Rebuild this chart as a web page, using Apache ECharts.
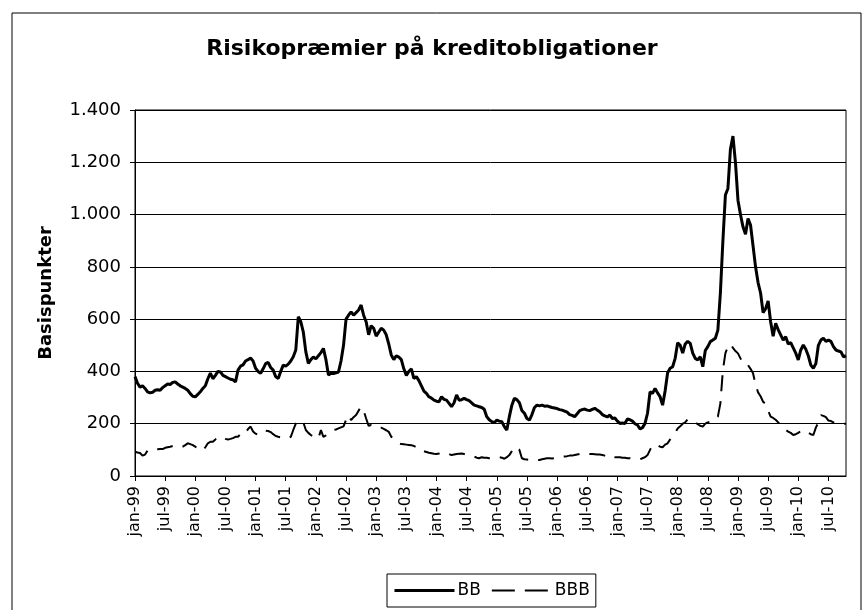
<!DOCTYPE html>
<html>
<head>
<meta charset="utf-8">
<script src="https://cdn.jsdelivr.net/npm/echarts@6/dist/echarts.min.js"></script>
<style>
  html, body { margin: 0; padding: 0; background: #fff; }
  #chart { width: 864px; height: 610px; }
</style>
</head>
<body>
<div id="chart"></div>
<script>
// half-monthly observations, 1 jan 1999 .. 15 okt 2010
var monthNames = ['jan', 'feb', 'mar', 'apr', 'maj', 'jun', 'jul', 'aug', 'sep', 'okt', 'nov', 'dec']
var firstYear = 1999
var lastYear = 2010
var lastMonth = 9

var bbValues = [
  380, 355, 340, 345, 335, 322, 318, 320, 328, 330, 328, 338,
  345, 352, 350, 358, 360, 352, 345, 340, 335, 328, 315, 305,
  303, 312, 322, 335, 345, 372, 394, 372, 385, 400, 398, 385,
  380, 375, 370, 368, 360, 405, 420, 425, 440, 445, 451, 440,
  412, 400, 393, 410, 430, 435, 415, 405, 380, 373, 400, 424,
  420, 428, 440, 456, 482, 609, 590, 550, 475, 431, 445, 455,
  448, 460, 472, 488, 445, 386, 393, 392, 395, 398, 440, 500,
  600, 615, 628, 615, 625, 635, 654, 615, 590, 540, 575, 565,
  535, 550, 565, 558, 540, 505, 463, 445, 460, 455, 445, 410,
  385, 400, 410, 373, 380, 365, 345, 325, 316, 303, 298, 290,
  286, 284, 303, 293, 290, 278, 265, 280, 310, 290, 292, 297,
  292, 288, 280, 271, 268, 265, 262, 255, 227, 215, 208, 204,
  214, 210, 208, 189, 176, 227, 271, 297, 292, 280, 250, 240,
  220, 214, 235, 262, 271, 268, 271, 267, 268, 265, 262, 260,
  258, 254, 252, 248, 244, 235, 232, 227, 238, 250, 254, 256,
  252, 250, 255, 259, 252, 246, 235, 230, 226, 233, 220, 222,
  210, 201, 203, 201, 218, 215, 210, 200, 195, 180, 185, 201,
  240, 322, 316, 335, 318, 303, 271, 325, 395, 412, 418, 450,
  510, 500, 470, 505, 515, 507, 470, 450, 444, 456, 418, 480,
  495, 514, 520, 527, 558, 700, 900, 1075, 1100, 1250, 1300, 1200,
  1055, 1000, 953, 925, 985, 960, 880, 800, 740, 700, 625, 640,
  670, 590, 535, 584, 560, 540, 520, 533, 505, 510, 490, 470,
  444, 482, 501, 485, 460, 424, 412, 430, 500, 520, 527, 515,
  520, 515, 495, 482, 478, 475, 456, 460
]

var bbbValues = [
  93, 90, 88, 78, 82, 97, 98, 100, 100, 102, 103, 103,
  108, 110, 112, 115, 114, 112, 110, 112, 118, 125, 122, 118,
  112, 105, 100, 97, 110, 125, 131, 131, 140, 150, 148, 145,
  142, 140, 142, 145, 150, 150, 160, 169, 165, 180, 189, 170,
  162, 157, 160, 168, 173, 172, 168, 160, 153, 150, 148, 146,
  145, 144, 150, 176, 200, 214, 212, 205, 176, 165, 157, 150,
  145, 144, 176, 150, 155, 163, 170, 176, 178, 182, 186, 190,
  215, 233, 214, 225, 233, 250, 265, 250, 220, 192, 195, 188,
  186, 185, 185, 180, 175, 169, 150, 144, 135, 125, 122, 121,
  120, 119, 118, 115, 110, 100, 100, 95, 92, 89, 87, 85,
  84, 86, 90, 88, 86, 84, 80, 82, 84, 85, 86, 84,
  82, 80, 78, 75, 70, 68, 72, 70, 70, 68, 68, 70,
  72, 72, 70, 66, 72, 80, 95, 112, 105, 100, 68, 64,
  63, 62, 61, 62, 62, 61, 64, 66, 68, 68, 67, 68,
  70, 72, 74, 75, 76, 78, 78, 80, 82, 84, 86, 87,
  86, 84, 84, 83, 82, 82, 80, 78, 76, 80, 75, 72,
  72, 72, 70, 70, 68, 68, 66, 65, 64, 64, 68, 72,
  80, 100, 118, 115, 118, 112, 110, 120, 125, 140, 155, 165,
  182, 190, 200, 205, 217, 217, 210, 205, 198, 192, 189, 200,
  205, 208, 210, 220, 227, 278, 405, 470, 494, 505, 490, 478,
  469, 450, 430, 424, 424, 410, 393, 350, 320, 305, 284, 276,
  250, 227, 222, 215, 205, 195, 185, 176, 170, 165, 157, 160,
  165, 172, 176, 170, 165, 160, 157, 185, 205, 233, 230, 225,
  212, 210, 205, 203, 201, 200, 200, 200
]

var categories = []
for (var y = firstYear; y <= lastYear; y++) {
  for (var m = 0; m < 12; m++) {
    if (y === lastYear && m > lastMonth) break
    var mm = (m + 1 < 10 ? '0' : '') + (m + 1)
    categories.push(y + '-' + mm + '-01')
    categories.push(y + '-' + mm + '-15')
  }
}

function isHalfYear (index) {
  return index % 12 === 0
}

function fmtDate (value) {
  var parts = value.split('-')
  return monthNames[parseInt(parts[1], 10) - 1] + '-' + parts[0].substr(2)
}

function fmtThousands (v) {
  if (v >= 1000) {
    var rest = String(v % 1000)
    while (rest.length < 3) rest = '0' + rest
    return Math.floor(v / 1000) + '.' + rest
  }
  return String(v)
}

var chart = echarts.init(document.getElementById('chart'))

var option = {
  animation: false,
  backgroundColor: '#fff',
  textStyle: { fontFamily: 'DejaVu Sans', color: '#000' },
  graphic: [{
    type: 'rect',
    shape: { x: 12, y: 13, width: 849, height: 620 },
    style: { fill: 'none', stroke: '#000', lineWidth: 1 },
    silent: true
  }],
  title: {
    text: 'Risikopræmier på kreditobligationer',
    left: 'center',
    top: 33,
    textStyle: { fontFamily: 'DejaVu Sans', fontWeight: 'bold', fontSize: 22, color: '#000' }
  },
  legend: {
    left: 387,
    top: 574,
    padding: [8, 6, 8, 6],
    itemWidth: 60,
    itemHeight: 16,
    itemGap: 10,
    borderColor: '#000',
    borderWidth: 1,
    textStyle: { fontFamily: 'DejaVu Sans', fontSize: 17, color: '#000', padding: [0, 0, 0, -2] },
    data: [
      {
        name: 'BB',
        itemStyle: { opacity: 0 },
        lineStyle: { color: '#000', width: 3, type: 'solid', opacity: 1 }
      },
      {
        name: 'BBB',
        itemStyle: { opacity: 0 },
        lineStyle: { color: '#000', width: 2, type: [23, 10], opacity: 1 }
      }
    ]
  },
  grid: {
    left: 135,
    right: 18,
    top: 110,
    bottom: 134,
    show: true,
    borderColor: '#000',
    borderWidth: 1
  },
  xAxis: {
    type: 'category',
    data: categories,
    boundaryGap: false,
    axisLine: { lineStyle: { color: '#000', width: 1 } },
    axisTick: { interval: function (i) { return isHalfYear(i) }, length: 5, lineStyle: { color: '#000' } },
    axisLabel: {
      interval: function (i) { return isHalfYear(i) },
      formatter: fmtDate,
      rotate: 90,
      margin: 10,
      fontFamily: 'DejaVu Sans',
      fontSize: 16,
      color: '#000'
    }
  },
  yAxis: {
    type: 'value',
    min: 0,
    max: 1400,
    interval: 200,
    name: 'Basispunkter',
    nameLocation: 'middle',
    nameGap: 80,
    nameTextStyle: { fontFamily: 'DejaVu Sans', fontWeight: 'bold', fontSize: 18, color: '#000' },
    axisLine: { show: true, lineStyle: { color: '#000', width: 1 } },
    axisTick: { show: true, length: 5, lineStyle: { color: '#000' } },
    axisLabel: {
      formatter: fmtThousands,
      margin: 14,
      fontFamily: 'DejaVu Sans',
      fontSize: 18,
      color: '#000'
    },
    splitLine: { lineStyle: { color: '#000', width: 1 } }
  },
  series: [
    {
      name: 'BB',
      type: 'line',
      data: bbValues,
      symbol: 'none',
      lineStyle: { color: '#000', width: 3 },
      itemStyle: { color: '#000' }
    },
    {
      name: 'BBB',
      type: 'line',
      data: bbbValues,
      symbol: 'none',
      lineStyle: { color: '#000', width: 2, type: [16, 10] },
      itemStyle: { color: '#000' }
    }
  ]
}

chart.setOption(option)
</script>
</body>
</html>
